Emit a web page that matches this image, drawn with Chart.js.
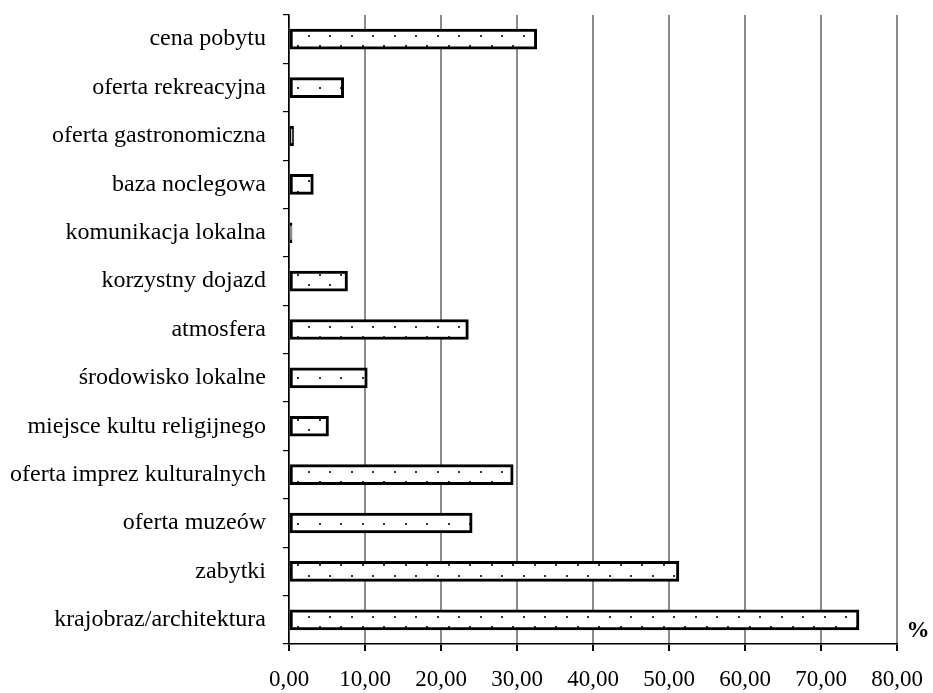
<!DOCTYPE html>
<html>
<head>
<meta charset="utf-8">
<script src="https://cdn.jsdelivr.net/npm/chart.js@4/dist/chart.umd.min.js"></script>
<style>
  html, body { margin: 0; padding: 0; background: #fff; }
  #wrap { width: 933px; height: 693px; }
</style>
</head>
<body>
<div id="wrap"><canvas id="c" width="933" height="693"></canvas></div>
<script>
// Motives for choosing the destination (% of answers)
const categories = [
  'cena pobytu',
  'oferta rekreacyjna',
  'oferta gastronomiczna',
  'baza noclegowa',
  'komunikacja lokalna',
  'korzystny dojazd',
  'atmosfera',
  'środowisko lokalne',
  'miejsce kultu religijnego',
  'oferta imprez kulturalnych',
  'oferta muzeów',
  'zabytki',
  'krajobraz/architektura'
];
const shares = [32.6, 7.2, 0.6, 3.2, 0.4, 7.7, 23.6, 10.3, 5.2, 29.5, 24.1, 51.3, 75.0];
const tickLabels = ['0,00', '10,00', '20,00', '30,00', '40,00', '50,00', '60,00', '70,00', '80,00'];
const unitLabel = '%';

// Dotted fill used for every bar
function dotPattern() {
  const t = document.createElement('canvas');
  t.width = 43; t.height = 83;
  const g = t.getContext('2d');
  g.fillStyle = '#fff';
  g.fillRect(0, 0, t.width, t.height);
  g.fillStyle = '#333';
  const step = 83 / 8;
  for (let i = 0; i < 8; i++) {
    const y = Math.round(4.875 + i * step);
    const xs = (i % 2 === 1) ? [8, 29] : [19, 40];
    xs.forEach(x => g.fillRect(x - 1, y - 1, 2, 2));
  }
  return document.getElementById('c').getContext('2d').createPattern(t, 'repeat');
}

const unitPlugin = {
  id: 'unitLabel',
  afterDraw(chart) {
    const ctx = chart.ctx;
    ctx.save();
    ctx.font = 'bold 23px "Liberation Serif", "Times New Roman", serif';
    ctx.fillStyle = '#000';
    ctx.textAlign = 'center';
    ctx.textBaseline = 'middle';
    ctx.fillText(unitLabel, 918, 631);
    ctx.restore();
  }
};

new Chart(document.getElementById('c'), {
  type: 'bar',
  data: {
    labels: categories,
    datasets: [{
      data: shares,
      backgroundColor: dotPattern(),
      borderColor: '#000',
      borderWidth: 3,
      borderSkipped: false,
      barThickness: 20
    }]
  },
  options: {
    indexAxis: 'y',
    responsive: false,
    animation: false,
    layout: { padding: { top: 15, right: 36, left: 0, bottom: 0 } },
    plugins: { legend: { display: false }, tooltip: { enabled: false } },
    scales: {
      x: {
        min: 0,
        max: 80,
        afterFit(s) { s.height = 49; s.paddingLeft = 0; s.paddingRight = 0; },
        ticks: {
          stepSize: 10,
          color: '#000',
          padding: 15,
          maxRotation: 0,
          font: { family: '"Liberation Serif", "Times New Roman", serif', size: 23 },
          callback: (v, i) => tickLabels[i]
        },
        grid: { color: '#8c8c8c', lineWidth: 2, tickColor: '#000', tickLength: 7 },
        border: { color: '#000', width: 1.5 }
      },
      y: {
        afterFit(s) { s.width = 289; s.paddingTop = 0; s.paddingBottom = 0; },
        ticks: {
          color: '#000',
          padding: 17,
          font: { family: '"Liberation Serif", "Times New Roman", serif', size: 24 }
        },
        grid: { display: true, drawOnChartArea: false, offset: true, tickColor: '#000', tickLength: 6, lineWidth: 1.2 },
        border: { color: '#000', width: 1.5 }
      }
    }
  },
  plugins: [unitPlugin]
});
</script>
</body>
</html>
